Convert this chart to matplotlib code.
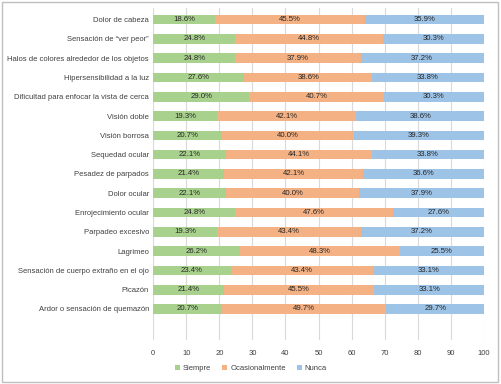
import numpy as np
import matplotlib
matplotlib.use("Agg")
import matplotlib.pyplot as plt
from matplotlib.patches import Rectangle

categories = ["Dolor de cabeza", "Sensación de \u201cver peor\u201d",
              "Halos de colores alrededor de los objetos", "Hipersensibilidad a la luz",
              "Dificultad para enfocar la vista de cerca", "Visión doble", "Visión borrosa",
              "Sequedad ocular", "Pesadez de parpados", "Dolor ocular", "Enrojecimiento ocular",
              "Parpadeo excesivo", "Lagrimeo", "Sensación de cuerpo extraño en el ojo",
              "Picazón", "Ardor o sensación de quemazón"]
siempre = [18.6, 24.8, 24.8, 27.6, 29.0, 19.3, 20.7, 22.1, 21.4, 22.1, 24.8, 19.3, 26.2, 23.4, 21.4, 20.7]
ocasional = [45.5, 44.8, 37.9, 38.6, 40.7, 42.1, 40.0, 44.1, 42.1, 40.0, 47.6, 43.4, 48.3, 43.4, 45.5, 49.7]
nunca = [35.9, 30.3, 37.2, 33.8, 30.3, 38.6, 39.3, 33.8, 36.6, 37.9, 27.6, 37.2, 25.5, 33.1, 33.1, 29.7]
series_names = ["Siempre", "Ocasionalmente", "Nunca"]
colors = ["#a9d18e", "#f4b183", "#9dc3e6"]

plt.rcParams['font.family'] = ['Liberation Sans', 'DejaVu Sans']

fig = plt.figure(figsize=(5.02, 3.84), dpi=100)
ax = fig.add_axes([0.305, 0.115, 0.659, 0.864])

y = np.arange(len(categories))
left = np.zeros(len(categories))
for vals, name, col in zip([siempre, ocasional, nunca], series_names, colors):
    vals = np.array(vals)
    ax.barh(y, vals, left=left, height=0.5, color=col, label=name, zorder=3)
    for yi, l, v in zip(y, left, vals):
        ax.text(l + v / 2, yi, f"{v:.1f}%", ha="center", va="center",
                fontsize=5.6, color="#262626", zorder=4)
    left += vals

ax.set_xlim(0, 100)
ax.set_ylim(len(categories) - 1 + 1.6, -0.6)
ax.set_xticks(np.arange(0, 101, 10))
ax.set_yticks(y)
ax.set_yticklabels(categories)
ax.tick_params(axis="both", length=0, labelsize=5.5, colors="#404040")
ax.tick_params(axis="x", pad=7)
ax.tick_params(axis="y", pad=3)
ax.grid(axis="x", color="#d9d9d9", linewidth=0.8, zorder=0)
for s in ax.spines.values():
    s.set_visible(False)

fig.legend(*ax.get_legend_handles_labels(), loc="center", bbox_to_anchor=(0.5, 0.04),
           ncol=3, frameon=False, fontsize=5.5, handlelength=0.6, handleheight=0.6,
           handletextpad=0.4, columnspacing=1.5, labelcolor="#404040")

fig.patches.append(Rectangle((0.003, 0.005), 0.99, 0.99, transform=fig.transFigure,
                             fill=False, edgecolor="#bfbfbf", linewidth=1.0))

fig.savefig("out.png", dpi=100)
